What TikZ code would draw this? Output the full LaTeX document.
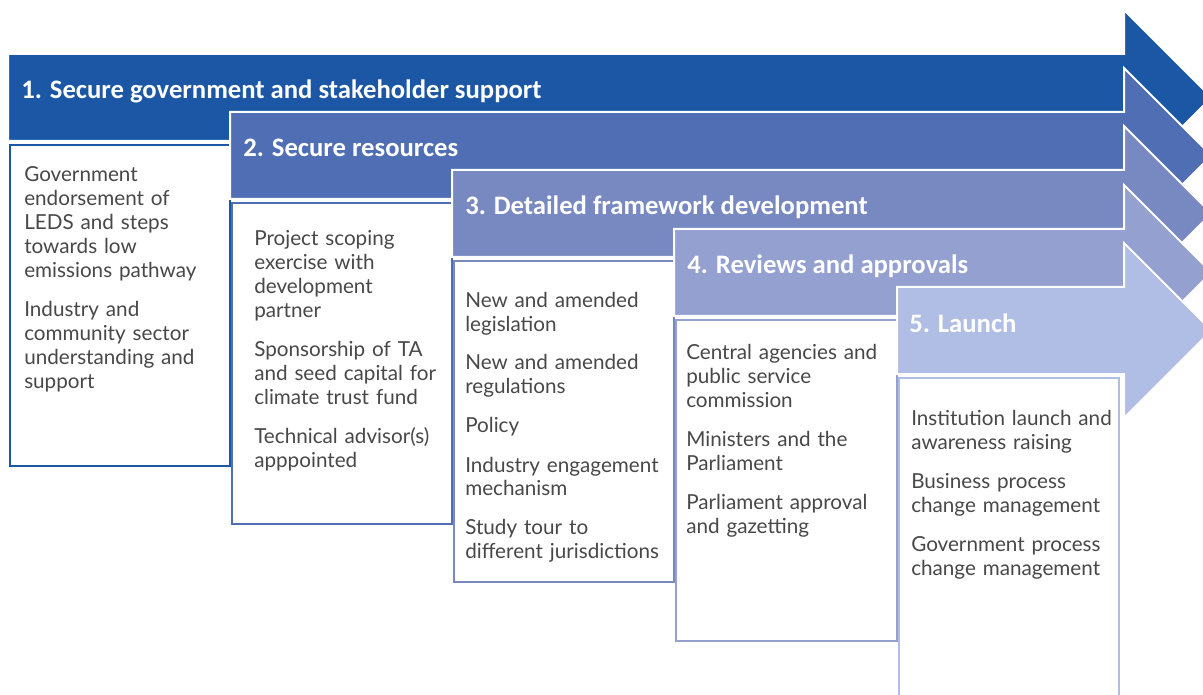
\documentclass[tikz,border=0pt]{standalone}
\usepackage{fontspec}
\setmainfont{Lato}
\newfontfamily\titlefont{Carlito}
\usetikzlibrary{calc}

\definecolor{stageone}{RGB}{28,87,166}
\definecolor{stagetwo}{RGB}{80,110,180}
\definecolor{stagethree}{RGB}{120,137,194}
\definecolor{stagefour}{RGB}{147,160,208}
\definecolor{stagefive}{RGB}{176,189,228}
\definecolor{bodygray}{RGB}{72,72,72}

\tikzset{
  stagearrow/.style={fill=#1, draw=white, line width=1.5pt, line join=miter},
  stagebox/.style={fill=white, draw=#1, line width=2.2pt},
  stagetitle/.style={anchor=base west, inner sep=0pt, text=white,
    font=\titlefont\bfseries\fontsize{20pt}{24pt}\selectfont},
  stagetext/.style={anchor=base west, inner sep=0pt, text=bodygray, align=left,
    text width=165pt, font=\fontsize{15.5pt}{18pt}\selectfont}
}

\begin{document}
\begin{tikzpicture}[x=0.75pt, y=-0.75pt]
        \useasboundingbox (0,0) rectangle (1203,695);
        \clip (0,0) rectangle (1203,695);

        % ==========================================
        % 1. Secure government and stakeholder support
        % ==========================================
        \draw[stagearrow=stageone] (8,54) -- (1124,54) -- (1124,10) -- (1211.5,97.5)
            -- (1124,185) -- (1124,141) -- (8,141) -- cycle;
        \draw[stagebox=stageone] (10,145) rectangle (230,466);
        \node[stagetitle] (title1) at (21,99) {1. Secure government and stakeholder support};
        \node[stagetext] (steps1) at (24,182) {Government\\ endorsement of\\ LEDS and steps\\
            towards low\\ emissions pathway\\[11.25pt] Industry and\\ community sector\\
            understanding and\\ support};

        % ==========================================
        % 2. Secure resources
        % ==========================================
        \draw[stagearrow=stagetwo] (230,112) -- (1124,112) -- (1124,68) -- (1211.5,155.5)
            -- (1124,243) -- (1124,199) -- (230,199) -- cycle;
        \draw[stagebox=stagetwo] (232,203) rectangle (452,524);
        \node[stagetitle] (title2) at (243,157) {2. Secure resources};
        \node[stagetext] (steps2) at (254,246) {Project scoping\\ exercise with\\ development\\
            partner\\[11.25pt] Sponsorship of TA\\ and seed capital for\\ climate trust fund\\[11.25pt]
            Technical advisor(s)\\ apppointed};

        % ==========================================
        % 3. Detailed framework development
        % ==========================================
        \draw[stagearrow=stagethree] (452,170) -- (1124,170) -- (1124,126) -- (1211.5,213.5)
            -- (1124,301) -- (1124,257) -- (452,257) -- cycle;
        \draw[stagebox=stagethree] (454,261) rectangle (674,582);
        \node[stagetitle] (title3) at (465,215) {3. Detailed framework development};
        \node[stagetext] (steps3) at (465,307) {New and amended\\ legislation\\[11.25pt]
            New and amended\\ regulations\\[11.25pt] Policy\\[11.25pt] Industry engagement\\
            mechanism\\[11.25pt] Study tour to\\ different jurisdictions};

        % ==========================================
        % 4. Reviews and approvals
        % ==========================================
        \draw[stagearrow=stagefour] (674,229) -- (1124,229) -- (1124,185) -- (1211.5,272.5)
            -- (1124,360) -- (1124,316) -- (674,316) -- cycle;
        \draw[stagebox=stagefour] (676,320) rectangle (897,641);
        \node[stagetitle] (title4) at (687,274) {4. Reviews and approvals};
        \node[stagetext] (steps4) at (686,359) {Central agencies and\\ public service\\
            commission\\[11.25pt] Ministers and the\\ Parliament\\[11.25pt]
            Parliament approval\\ and gazetting};

        % ==========================================
        % 5. Launch
        % ==========================================
        \draw[stagearrow=stagefive] (897,287) -- (1124,287) -- (1124,243) -- (1211.5,330.5)
            -- (1124,418) -- (1124,374) -- (897,374) -- cycle;
        \draw[stagebox=stagefive] (899,378) rectangle (1119,700);
        \node[stagetitle] (title5) at (909,332) {5. Launch};
        \node[stagetext] (steps5) at (911,425) {Institution launch and\\ awareness raising\\[11.25pt]
            Business process\\ change management\\[11.25pt] Government process\\
            change management};

\end{tikzpicture}
\end{document}
